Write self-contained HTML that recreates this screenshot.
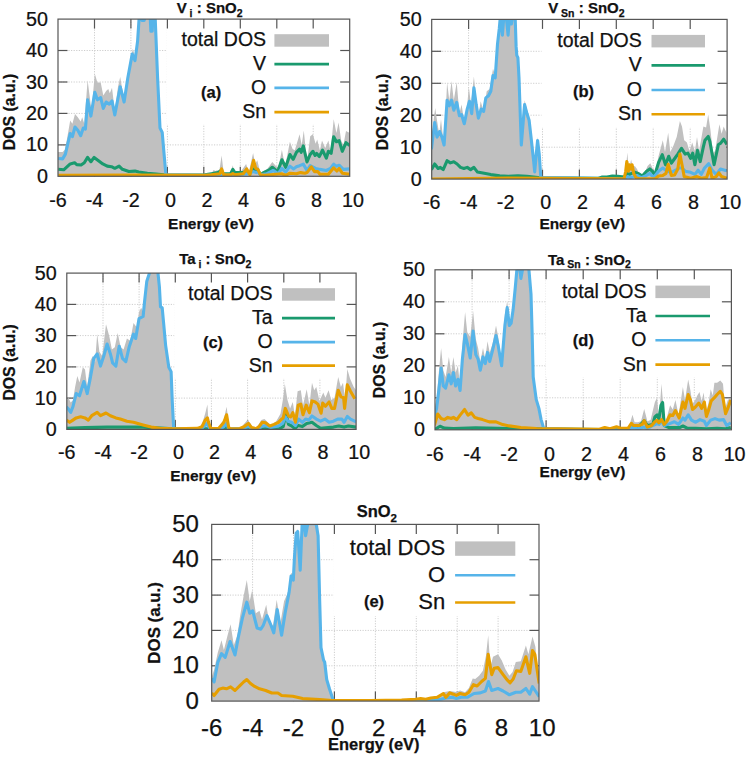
<!DOCTYPE html>
<html><head><meta charset="utf-8"><style>
html,body{margin:0;padding:0;background:#fff;width:749px;height:758px;overflow:hidden}
svg text{font-family:"Liberation Sans", sans-serif;fill:#111;stroke:#111;stroke-width:0.25px}
</style></head><body>
<svg width="749" height="758" viewBox="0 0 749 758" style="display:block">
<rect width="749" height="758" fill="#fff"/>
<g><defs><clipPath id="clipa"><rect x="58" y="19.1" width="291.7" height="157.2"/></clipPath></defs><line x1="94.5" y1="19.1" x2="94.5" y2="176.3" stroke="#cdcdcd" stroke-width="1" stroke-dasharray="1.2,1.4"/><line x1="130.9" y1="19.1" x2="130.9" y2="176.3" stroke="#cdcdcd" stroke-width="1" stroke-dasharray="1.2,1.4"/><line x1="167.4" y1="19.1" x2="167.4" y2="176.3" stroke="#cdcdcd" stroke-width="1" stroke-dasharray="1.2,1.4"/><line x1="203.8" y1="19.1" x2="203.8" y2="176.3" stroke="#cdcdcd" stroke-width="1" stroke-dasharray="1.2,1.4"/><line x1="240.3" y1="19.1" x2="240.3" y2="176.3" stroke="#cdcdcd" stroke-width="1" stroke-dasharray="1.2,1.4"/><line x1="276.8" y1="19.1" x2="276.8" y2="176.3" stroke="#cdcdcd" stroke-width="1" stroke-dasharray="1.2,1.4"/><line x1="313.2" y1="19.1" x2="313.2" y2="176.3" stroke="#cdcdcd" stroke-width="1" stroke-dasharray="1.2,1.4"/><line x1="58" y1="144.9" x2="349.7" y2="144.9" stroke="#cdcdcd" stroke-width="1" stroke-dasharray="1.2,1.4"/><line x1="58" y1="113.4" x2="349.7" y2="113.4" stroke="#cdcdcd" stroke-width="1" stroke-dasharray="1.2,1.4"/><line x1="58" y1="82" x2="349.7" y2="82" stroke="#cdcdcd" stroke-width="1" stroke-dasharray="1.2,1.4"/><line x1="58" y1="50.5" x2="349.7" y2="50.5" stroke="#cdcdcd" stroke-width="1" stroke-dasharray="1.2,1.4"/><rect x="167" y="19.1" width="182.7" height="105.5" fill="#fff"/><line x1="94.5" y1="176.3" x2="94.5" y2="166.8" stroke="#555" stroke-width="1.2"/><line x1="94.5" y1="19.1" x2="94.5" y2="28.6" stroke="#555" stroke-width="1.2"/><line x1="130.9" y1="176.3" x2="130.9" y2="166.8" stroke="#555" stroke-width="1.2"/><line x1="130.9" y1="19.1" x2="130.9" y2="28.6" stroke="#555" stroke-width="1.2"/><line x1="167.4" y1="176.3" x2="167.4" y2="166.8" stroke="#555" stroke-width="1.2"/><line x1="167.4" y1="19.1" x2="167.4" y2="28.6" stroke="#555" stroke-width="1.2"/><line x1="203.8" y1="176.3" x2="203.8" y2="166.8" stroke="#555" stroke-width="1.2"/><line x1="203.8" y1="19.1" x2="203.8" y2="28.6" stroke="#555" stroke-width="1.2"/><line x1="240.3" y1="176.3" x2="240.3" y2="166.8" stroke="#555" stroke-width="1.2"/><line x1="240.3" y1="19.1" x2="240.3" y2="28.6" stroke="#555" stroke-width="1.2"/><line x1="276.8" y1="176.3" x2="276.8" y2="166.8" stroke="#555" stroke-width="1.2"/><line x1="276.8" y1="19.1" x2="276.8" y2="28.6" stroke="#555" stroke-width="1.2"/><line x1="313.2" y1="176.3" x2="313.2" y2="166.8" stroke="#555" stroke-width="1.2"/><line x1="313.2" y1="19.1" x2="313.2" y2="28.6" stroke="#555" stroke-width="1.2"/><line x1="58" y1="144.9" x2="67.5" y2="144.9" stroke="#555" stroke-width="1.2"/><line x1="349.7" y1="144.9" x2="340.2" y2="144.9" stroke="#555" stroke-width="1.2"/><line x1="58" y1="113.4" x2="67.5" y2="113.4" stroke="#555" stroke-width="1.2"/><line x1="349.7" y1="113.4" x2="340.2" y2="113.4" stroke="#555" stroke-width="1.2"/><line x1="58" y1="82" x2="67.5" y2="82" stroke="#555" stroke-width="1.2"/><line x1="349.7" y1="82" x2="340.2" y2="82" stroke="#555" stroke-width="1.2"/><line x1="58" y1="50.5" x2="67.5" y2="50.5" stroke="#555" stroke-width="1.2"/><line x1="349.7" y1="50.5" x2="340.2" y2="50.5" stroke="#555" stroke-width="1.2"/><g clip-path="url(#clipa)"><polygon points="55,176.3 55,152 58.3,152 62.6,152 64.8,149.8 67,138.9 70.2,120.4 72.4,123.7 75,113.9 77.8,117.2 80.7,121.5 82.2,117.2 84.3,123.7 87.6,80.2 89.3,93.3 91.5,110.7 94.8,73.7 97.4,82.4 100.7,82.4 103.3,95.4 106.1,91.1 108.3,88.9 109.8,93.3 112,87.8 114.8,110.7 118,86.7 120.2,77 124.1,99.8 128.9,69.3 132.8,48.7 135,56.3 137.6,36.7 139.1,18.3 150.2,17.2 150.9,28 152.2,28 152.8,17.2 155.2,18.3 157.6,78 160,128 162.2,132.4 163.7,149.8 165.9,175.4 205,175.8 211.4,173.7 213.5,170 215.7,171 217.3,170 218.9,173.7 221.6,155.5 223.2,168.4 224.8,174.8 230.6,173.7 232.8,165.2 234.4,172.6 240.2,172.6 246.1,164.1 248.8,172.6 253.1,152.9 255.2,164.1 257.3,160.3 260.5,173.7 263.7,171 266.9,169.4 272.3,161.9 278.2,168.4 281.9,149.7 285.1,166.2 289.9,141.7 292.6,149.1 294.8,150.2 299.6,134.2 301.7,144.9 303.8,130.4 307,161.9 310.2,136.3 312.9,134.2 315.6,143.8 317.2,139.5 319.9,150.2 322,140.6 325.2,148.1 328.4,140.6 330.5,151.3 333.7,119.2 336.4,133.1 338.6,122.4 341.2,140.6 343.4,144.9 346,131 349.8,133.1 349.8,176.3" fill="#c0c0c0"/><polyline points="58.3,169.3 63.7,169.8 70.2,163.9 74.6,162.8 76.7,164.6 81.1,165 84.3,162.8 87.6,157.4 90.9,161.7 94.1,157.4 98.5,160.7 102.8,163.9 107.2,166.1 111.5,166.7 114.8,168.3 119.1,166.1 122.4,169.3 128.9,171.5 135,171.1 138.7,172 147.4,173.3 156.1,174.1 165.9,175 205,174.8 211.4,173.7 217.8,172.6 221,170.5 223.2,173.7 230.6,173.7 232.8,169.4 234.9,172.6 243.4,172.6 246.7,170.5 249.9,173.7 253.1,168.9 255.2,170 257.3,169.4 260.5,174.8 263.7,172.6 269.1,170 272.3,167.3 277.7,171.6 281.9,159.8 285.7,167.3 289.9,154.5 293.2,159.3 296.4,152.3 299.6,149.1 301.2,152.3 303.3,145.9 307,161.9 310.2,154.5 312.9,151.3 315.1,155.5 316.7,153.4 319.3,156.6 322.5,150.2 326.3,158.2 328.4,151.3 331.1,153.4 333.7,136.8 336.4,141.7 339.1,140.6 342.3,151.3 346,142.7 349.8,145.4" fill="none" stroke="#1a9a6e" stroke-width="3.1" stroke-linejoin="round"/><polyline points="58.3,158.5 62.6,158.9 65.4,154.1 70.2,133.5 72.4,136.7 75,127 77.8,130.2 80.7,135.7 83.3,128 85.4,129.1 87.6,99.8 90.9,116.1 94.8,92.2 97.4,99.8 100.7,97.6 103.3,108.5 106.1,102 109.3,104.1 112,100.9 114.8,115 120.2,86.7 124.1,102 127.8,78 132.2,54.1 135,60.6 137.6,41.1 139.1,18.3 140.9,17.2 142,20.4 144.1,20.4 145.2,17.2 150.2,17.2 150.9,31.3 152.2,31.3 152.8,17.2 155.2,18.3 157.6,78 160,128 162.2,132.4 163.7,149.8 165.9,174.8 205,175.3 237,174.8 247.7,173.7 253.1,171.6 256.3,172.6 258.4,171.6 260.5,174.8 266.9,173.7 273.4,170.5 278.2,173.7 281.9,168.4 285.7,172.1 289.9,166.2 293.7,168.9 296.4,166.8 299.6,165.7 303.3,164.1 307,170.5 310.2,165.7 315.6,168.4 319.9,169.4 326.3,170.5 330.5,168.4 333.7,164.1 336.4,166.2 339.1,165.2 343.4,169.4 349.8,168.9" fill="none" stroke="#56b4e9" stroke-width="3.1" stroke-linejoin="round"/><polyline points="58.3,175.4 135,175 205,175.3 211.4,174.8 219.9,173.7 221.6,168.9 223.7,174.8 230.6,174.8 232.8,173.5 234.9,174.8 243.4,173.7 246.7,168.9 249.9,174.8 253.6,160.3 255.7,168.4 257.9,169.4 260.5,174.8 264.8,175.3 281.4,173.7 285.7,175.3 289.9,173.2 296.4,173.7 300.6,172.6 304.9,173.2 307,172.6 311.3,166.8 314.5,171.6 317.7,171.6 319.9,174.2 328.4,174.2 333.7,167.8 336.9,171 339.1,168.4 342.3,173.2 349.8,174.2" fill="none" stroke="#e69f00" stroke-width="3.1" stroke-linejoin="round"/></g><rect x="58" y="19.1" width="291.7" height="157.2" fill="none" stroke="#555" stroke-width="1.2"/><text transform="translate(58,206.7) scale(0.94,1)" font-size="21" text-anchor="middle">-6</text><text transform="translate(94.5,206.7) scale(0.94,1)" font-size="21" text-anchor="middle">-4</text><text transform="translate(130.9,206.7) scale(0.94,1)" font-size="21" text-anchor="middle">-2</text><text transform="translate(170.6,206.7) scale(0.94,1)" font-size="21" text-anchor="middle">0</text><text transform="translate(207,206.7) scale(0.94,1)" font-size="21" text-anchor="middle">2</text><text transform="translate(243.5,206.7) scale(0.94,1)" font-size="21" text-anchor="middle">4</text><text transform="translate(280,206.7) scale(0.94,1)" font-size="21" text-anchor="middle">6</text><text transform="translate(316.4,206.7) scale(0.94,1)" font-size="21" text-anchor="middle">8</text><text transform="translate(352.9,206.7) scale(0.94,1)" font-size="21" text-anchor="middle">10</text><text transform="translate(48,182.8) scale(0.94,1)" font-size="21" text-anchor="end">0</text><text transform="translate(48,151.4) scale(0.94,1)" font-size="21" text-anchor="end">10</text><text transform="translate(48,119.9) scale(0.94,1)" font-size="21" text-anchor="end">20</text><text transform="translate(48,88.5) scale(0.94,1)" font-size="21" text-anchor="end">30</text><text transform="translate(48,57.1) scale(0.94,1)" font-size="21" text-anchor="end">40</text><text transform="translate(48,25.6) scale(0.94,1)" font-size="21" text-anchor="end">50</text><text x="211" y="228.7" font-size="15.450000000000001" font-weight="bold" text-anchor="middle">Energy (eV)</text><text transform="translate(15,112) rotate(-90)" font-size="15.825" font-weight="bold" text-anchor="middle">DOS (a.u.)</text><text x="176.7" y="13.4" font-weight="bold" xml:space="preserve"><tspan font-size="15" dy="0">V</tspan><tspan font-size="10.5" dy="3.75"> i</tspan><tspan font-size="15" dy="-3.75"> : SnO</tspan><tspan font-size="10.5" dy="3.75">2</tspan></text><text x="266.1" y="46.4" font-size="19.5" text-anchor="end">total DOS</text><rect x="274.4" y="34.2" width="54.6" height="12.5" fill="#c0c0c0"/><text x="266.1" y="69.9" font-size="19.5" text-anchor="end">V</text><line x1="274.4" y1="64.1" x2="329" y2="64.1" stroke="#1a9a6e" stroke-width="2.6"/><text x="266.1" y="93.8" font-size="19.5" text-anchor="end">O</text><line x1="274.4" y1="87.9" x2="329" y2="87.9" stroke="#56b4e9" stroke-width="2.6"/><text x="266.1" y="117.9" font-size="19.5" text-anchor="end">Sn</text><line x1="274.4" y1="112.1" x2="329" y2="112.1" stroke="#e69f00" stroke-width="2.6"/><text x="211.2" y="97.8" font-size="16.5" font-weight="bold" text-anchor="middle">(a)</text></g>
<g><defs><clipPath id="clipb"><rect x="431.7" y="19.4" width="295.4" height="159.7"/></clipPath></defs><line x1="468.6" y1="19.4" x2="468.6" y2="179.1" stroke="#cdcdcd" stroke-width="1" stroke-dasharray="1.2,1.4"/><line x1="505.6" y1="19.4" x2="505.6" y2="179.1" stroke="#cdcdcd" stroke-width="1" stroke-dasharray="1.2,1.4"/><line x1="542.5" y1="19.4" x2="542.5" y2="179.1" stroke="#cdcdcd" stroke-width="1" stroke-dasharray="1.2,1.4"/><line x1="579.4" y1="19.4" x2="579.4" y2="179.1" stroke="#cdcdcd" stroke-width="1" stroke-dasharray="1.2,1.4"/><line x1="616.3" y1="19.4" x2="616.3" y2="179.1" stroke="#cdcdcd" stroke-width="1" stroke-dasharray="1.2,1.4"/><line x1="653.2" y1="19.4" x2="653.2" y2="179.1" stroke="#cdcdcd" stroke-width="1" stroke-dasharray="1.2,1.4"/><line x1="690.2" y1="19.4" x2="690.2" y2="179.1" stroke="#cdcdcd" stroke-width="1" stroke-dasharray="1.2,1.4"/><line x1="431.7" y1="147.2" x2="727.1" y2="147.2" stroke="#cdcdcd" stroke-width="1" stroke-dasharray="1.2,1.4"/><line x1="431.7" y1="115.2" x2="727.1" y2="115.2" stroke="#cdcdcd" stroke-width="1" stroke-dasharray="1.2,1.4"/><line x1="431.7" y1="83.3" x2="727.1" y2="83.3" stroke="#cdcdcd" stroke-width="1" stroke-dasharray="1.2,1.4"/><line x1="431.7" y1="51.3" x2="727.1" y2="51.3" stroke="#cdcdcd" stroke-width="1" stroke-dasharray="1.2,1.4"/><rect x="541.5" y="19.4" width="185.6" height="108" fill="#fff"/><line x1="468.6" y1="179.1" x2="468.6" y2="169.6" stroke="#555" stroke-width="1.2"/><line x1="468.6" y1="19.4" x2="468.6" y2="28.9" stroke="#555" stroke-width="1.2"/><line x1="505.6" y1="179.1" x2="505.6" y2="169.6" stroke="#555" stroke-width="1.2"/><line x1="505.6" y1="19.4" x2="505.6" y2="28.9" stroke="#555" stroke-width="1.2"/><line x1="542.5" y1="179.1" x2="542.5" y2="169.6" stroke="#555" stroke-width="1.2"/><line x1="542.5" y1="19.4" x2="542.5" y2="28.9" stroke="#555" stroke-width="1.2"/><line x1="579.4" y1="179.1" x2="579.4" y2="169.6" stroke="#555" stroke-width="1.2"/><line x1="579.4" y1="19.4" x2="579.4" y2="28.9" stroke="#555" stroke-width="1.2"/><line x1="616.3" y1="179.1" x2="616.3" y2="169.6" stroke="#555" stroke-width="1.2"/><line x1="616.3" y1="19.4" x2="616.3" y2="28.9" stroke="#555" stroke-width="1.2"/><line x1="653.2" y1="179.1" x2="653.2" y2="169.6" stroke="#555" stroke-width="1.2"/><line x1="653.2" y1="19.4" x2="653.2" y2="28.9" stroke="#555" stroke-width="1.2"/><line x1="690.2" y1="179.1" x2="690.2" y2="169.6" stroke="#555" stroke-width="1.2"/><line x1="690.2" y1="19.4" x2="690.2" y2="28.9" stroke="#555" stroke-width="1.2"/><line x1="431.7" y1="147.2" x2="441.2" y2="147.2" stroke="#555" stroke-width="1.2"/><line x1="727.1" y1="147.2" x2="717.6" y2="147.2" stroke="#555" stroke-width="1.2"/><line x1="431.7" y1="115.2" x2="441.2" y2="115.2" stroke="#555" stroke-width="1.2"/><line x1="727.1" y1="115.2" x2="717.6" y2="115.2" stroke="#555" stroke-width="1.2"/><line x1="431.7" y1="83.3" x2="441.2" y2="83.3" stroke="#555" stroke-width="1.2"/><line x1="727.1" y1="83.3" x2="717.6" y2="83.3" stroke="#555" stroke-width="1.2"/><line x1="431.7" y1="51.3" x2="441.2" y2="51.3" stroke="#555" stroke-width="1.2"/><line x1="727.1" y1="51.3" x2="717.6" y2="51.3" stroke="#555" stroke-width="1.2"/><g clip-path="url(#clipb)"><polygon points="431.4,179.1 431.4,147.2 433.6,120.3 435.2,108 437,120.3 439.2,133.8 441,119.2 442.6,133.8 444.1,145 447.1,82.2 449.3,100.2 451.5,81.1 453.8,100.2 456.7,82.2 459.4,113.6 461.6,104.6 464.3,122.6 466.5,113.6 468.8,86.7 471,104.6 473.9,76.6 476.2,100.2 478.4,115.8 480.7,101.3 483.6,111.4 486.7,91.2 489.6,89 493,68.8 495.2,75.5 497.9,37.4 499.7,18.4 501.1,18.4 502.4,31.8 503.7,18.4 506.4,18.4 508.1,31.8 509.4,18.4 510.5,18.4 511.4,21.7 512.3,18.4 515.2,18.4 516.1,41.9 516.8,55.3 517.9,57.6 519,73.3 521.3,140.5 524.6,100.2 526.9,109.1 529.1,115.8 531.4,136 533.6,158.4 534.7,169.6 536.3,149.4 537.6,137.1 539.2,151.7 540.8,178.6 624.7,178.9 625.2,178.7 626.3,164.8 627.3,152.5 628.4,164.8 629.7,166.9 631.1,159.5 632.7,166.9 634.8,165.9 637,169.1 639.1,173.4 641.8,177.6 644.4,173.4 647.6,165.9 650.3,163.2 652.1,166.9 654.8,174.4 658.5,156.3 662.8,140.2 665,152 668.2,132.8 670.3,152 673.5,145.6 676.7,137 679.9,121 682,126.4 684.2,140.2 686.9,142.4 689.5,150.9 692.2,142.4 694.9,150.9 697,137 699.1,150.9 703.4,126.4 706.1,127.4 708.2,114.6 710.4,129.6 713,153.1 715.1,150.9 719.4,124.2 721.6,133.8 723.7,126.4 726.4,132.8 726.4,179.1" fill="#c0c0c0"/><polyline points="431.4,169.6 434.7,164 438.1,168.5 440.3,167.4 443.2,169.6 447.1,160.7 450.4,162.9 453.8,161.8 457.1,164 460.5,167.4 463.9,168.5 467.2,167.4 470.6,169.6 473.9,167.4 477.3,171.9 482.9,173 490.8,174.6 499.7,175.9 508.1,176.3 517.9,175.9 526.9,176.3 540.3,177.7 598.5,178.2 601.7,177.1 607,177.1 612.4,176 617.7,176.3 622,176.8 625.2,176.6 627.3,173.4 629.5,174.4 631.6,173.4 634.8,172.3 638,173.4 642.3,176 646.6,171.2 649.8,168.9 652.1,171.2 654.8,175 658.5,162.7 662.3,154.7 665.5,164.8 668.7,156.3 671.4,163.2 674,159.5 677.8,154.1 681.5,148.3 685.2,154.1 687.9,153.1 690.6,158.4 692.7,153.1 694.9,164.8 697.5,150.4 700.2,161.6 703.4,146.7 705,140.2 708.2,136.5 709.8,141.3 714.1,164.8 718.4,144.5 720.5,143.4 723.7,139.2 726.9,144.5" fill="none" stroke="#1a9a6e" stroke-width="3.1" stroke-linejoin="round"/><polyline points="431.4,149.4 434.7,122.6 437,137.1 439.6,131.5 441.9,137.1 444.1,145 447.1,100.2 449.3,105.8 451.5,100.2 453.8,110.2 456.7,102.4 459.4,115.8 461.6,114.7 464.3,123.7 467.2,109.1 469.5,101.3 471.7,113.6 473.9,87.8 476.2,104.6 478.4,118.1 481.3,109.1 483.6,111.4 485.8,97.9 488.5,95.7 490.8,91.2 493,75.5 495.2,77.8 497.5,44.1 499.3,28.4 500.2,18.4 501.1,18.4 502.4,35.2 503.7,18.4 506.4,18.4 508.1,35.2 509.4,18.4 510.5,18.4 511.4,24 512.3,18.4 515.2,18.4 516.1,46.4 516.8,55.3 517.9,57.6 519,77.8 521.3,145 524.6,104.6 526.9,113.6 529.1,120.3 531.4,140.5 533.6,160.7 534.7,171.9 536.3,153.9 537.6,140.5 539.2,153.9 540.8,177.5 624.7,178.7 627.3,176.6 630.5,177.6 632.7,177.1 637,175.5 641.2,177.6 645.5,176 649.8,173.4 652.1,176 654.3,176.6 658.5,171.2 662.8,168 667.1,171.2 671.4,172.3 675.6,170.2 678.8,168 682,168 685.2,171.2 690.6,172.3 694.9,174.4 698.1,170.2 701.3,174.4 704.5,168 708.7,163.7 712,170.2 716.2,174.4 720.5,169.1 724.8,170.2 726.9,170.7" fill="none" stroke="#56b4e9" stroke-width="3.1" stroke-linejoin="round"/><polyline points="431.4,179 508.1,178.1 624.1,178.7 625.7,171.2 626.8,161.6 628.4,171.2 629.5,164.8 631.1,169.1 632.1,164.8 633.7,173.4 635.9,177.6 639.1,178.7 649.8,178.7 652.1,178.7 655.3,178.7 658.5,176 662.8,175.5 666,173.4 668.2,164.3 671.4,175.5 674.6,175 677.8,169.1 679.9,154.1 682,164.8 684.2,176.6 690.6,178.2 697,176.6 701.3,178.2 706.6,177.6 709.8,168 712,178.2 716.2,176.6 718.9,172.8 721.6,176.6 726.9,178.2" fill="none" stroke="#e69f00" stroke-width="3.1" stroke-linejoin="round"/></g><rect x="431.7" y="19.4" width="295.4" height="159.7" fill="none" stroke="#555" stroke-width="1.2"/><text transform="translate(431.7,208.8) scale(0.94,1)" font-size="21" text-anchor="middle">-6</text><text transform="translate(468.6,208.8) scale(0.94,1)" font-size="21" text-anchor="middle">-4</text><text transform="translate(505.6,208.8) scale(0.94,1)" font-size="21" text-anchor="middle">-2</text><text transform="translate(545.7,208.8) scale(0.94,1)" font-size="21" text-anchor="middle">0</text><text transform="translate(582.6,208.8) scale(0.94,1)" font-size="21" text-anchor="middle">2</text><text transform="translate(619.5,208.8) scale(0.94,1)" font-size="21" text-anchor="middle">4</text><text transform="translate(656.5,208.8) scale(0.94,1)" font-size="21" text-anchor="middle">6</text><text transform="translate(693.4,208.8) scale(0.94,1)" font-size="21" text-anchor="middle">8</text><text transform="translate(730.3,208.8) scale(0.94,1)" font-size="21" text-anchor="middle">10</text><text transform="translate(421.7,185.6) scale(0.94,1)" font-size="21" text-anchor="end">0</text><text transform="translate(421.7,153.7) scale(0.94,1)" font-size="21" text-anchor="end">10</text><text transform="translate(421.7,121.7) scale(0.94,1)" font-size="21" text-anchor="end">20</text><text transform="translate(421.7,89.8) scale(0.94,1)" font-size="21" text-anchor="end">30</text><text transform="translate(421.7,57.9) scale(0.94,1)" font-size="21" text-anchor="end">40</text><text transform="translate(421.7,25.9) scale(0.94,1)" font-size="21" text-anchor="end">50</text><text x="582.3" y="228.7" font-size="15.450000000000001" font-weight="bold" text-anchor="middle">Energy (eV)</text><text transform="translate(388,112) rotate(-90)" font-size="15.825" font-weight="bold" text-anchor="middle">DOS (a.u.)</text><text x="548.2" y="13.4" font-weight="bold" xml:space="preserve"><tspan font-size="15" dy="0">V</tspan><tspan font-size="10.5" dy="3.75"> Sn</tspan><tspan font-size="15" dy="-3.75"> : SnO</tspan><tspan font-size="10.5" dy="3.75">2</tspan></text><text x="641.8" y="47" font-size="19.5" text-anchor="end">total DOS</text><rect x="651.5" y="34.9" width="53.5" height="12.5" fill="#c0c0c0"/><text x="641.8" y="71.2" font-size="19.5" text-anchor="end">V</text><line x1="651.5" y1="65.4" x2="705" y2="65.4" stroke="#1a9a6e" stroke-width="2.6"/><text x="641.8" y="95.8" font-size="19.5" text-anchor="end">O</text><line x1="651.5" y1="90" x2="705" y2="90" stroke="#56b4e9" stroke-width="2.6"/><text x="641.8" y="120.1" font-size="19.5" text-anchor="end">Sn</text><line x1="651.5" y1="114.3" x2="705" y2="114.3" stroke="#e69f00" stroke-width="2.6"/><text x="583.5" y="96.9" font-size="16.5" font-weight="bold" text-anchor="middle">(b)</text></g>
<g><defs><clipPath id="clipc"><rect x="66.8" y="273.1" width="289.3" height="156.3"/></clipPath></defs><line x1="103" y1="273.1" x2="103" y2="429.4" stroke="#cdcdcd" stroke-width="1" stroke-dasharray="1.2,1.4"/><line x1="139.1" y1="273.1" x2="139.1" y2="429.4" stroke="#cdcdcd" stroke-width="1" stroke-dasharray="1.2,1.4"/><line x1="175.3" y1="273.1" x2="175.3" y2="429.4" stroke="#cdcdcd" stroke-width="1" stroke-dasharray="1.2,1.4"/><line x1="211.4" y1="273.1" x2="211.4" y2="429.4" stroke="#cdcdcd" stroke-width="1" stroke-dasharray="1.2,1.4"/><line x1="247.6" y1="273.1" x2="247.6" y2="429.4" stroke="#cdcdcd" stroke-width="1" stroke-dasharray="1.2,1.4"/><line x1="283.8" y1="273.1" x2="283.8" y2="429.4" stroke="#cdcdcd" stroke-width="1" stroke-dasharray="1.2,1.4"/><line x1="319.9" y1="273.1" x2="319.9" y2="429.4" stroke="#cdcdcd" stroke-width="1" stroke-dasharray="1.2,1.4"/><line x1="66.8" y1="398.1" x2="356.1" y2="398.1" stroke="#cdcdcd" stroke-width="1" stroke-dasharray="1.2,1.4"/><line x1="66.8" y1="366.9" x2="356.1" y2="366.9" stroke="#cdcdcd" stroke-width="1" stroke-dasharray="1.2,1.4"/><line x1="66.8" y1="335.6" x2="356.1" y2="335.6" stroke="#cdcdcd" stroke-width="1" stroke-dasharray="1.2,1.4"/><line x1="66.8" y1="304.4" x2="356.1" y2="304.4" stroke="#cdcdcd" stroke-width="1" stroke-dasharray="1.2,1.4"/><rect x="174.3" y="273.1" width="181.8" height="105.6" fill="#fff"/><line x1="103" y1="429.4" x2="103" y2="419.9" stroke="#555" stroke-width="1.2"/><line x1="103" y1="273.1" x2="103" y2="282.6" stroke="#555" stroke-width="1.2"/><line x1="139.1" y1="429.4" x2="139.1" y2="419.9" stroke="#555" stroke-width="1.2"/><line x1="139.1" y1="273.1" x2="139.1" y2="282.6" stroke="#555" stroke-width="1.2"/><line x1="175.3" y1="429.4" x2="175.3" y2="419.9" stroke="#555" stroke-width="1.2"/><line x1="175.3" y1="273.1" x2="175.3" y2="282.6" stroke="#555" stroke-width="1.2"/><line x1="211.4" y1="429.4" x2="211.4" y2="419.9" stroke="#555" stroke-width="1.2"/><line x1="211.4" y1="273.1" x2="211.4" y2="282.6" stroke="#555" stroke-width="1.2"/><line x1="247.6" y1="429.4" x2="247.6" y2="419.9" stroke="#555" stroke-width="1.2"/><line x1="247.6" y1="273.1" x2="247.6" y2="282.6" stroke="#555" stroke-width="1.2"/><line x1="283.8" y1="429.4" x2="283.8" y2="419.9" stroke="#555" stroke-width="1.2"/><line x1="283.8" y1="273.1" x2="283.8" y2="282.6" stroke="#555" stroke-width="1.2"/><line x1="319.9" y1="429.4" x2="319.9" y2="419.9" stroke="#555" stroke-width="1.2"/><line x1="319.9" y1="273.1" x2="319.9" y2="282.6" stroke="#555" stroke-width="1.2"/><line x1="66.8" y1="398.1" x2="76.3" y2="398.1" stroke="#555" stroke-width="1.2"/><line x1="356.1" y1="398.1" x2="346.6" y2="398.1" stroke="#555" stroke-width="1.2"/><line x1="66.8" y1="366.9" x2="76.3" y2="366.9" stroke="#555" stroke-width="1.2"/><line x1="356.1" y1="366.9" x2="346.6" y2="366.9" stroke="#555" stroke-width="1.2"/><line x1="66.8" y1="335.6" x2="76.3" y2="335.6" stroke="#555" stroke-width="1.2"/><line x1="356.1" y1="335.6" x2="346.6" y2="335.6" stroke="#555" stroke-width="1.2"/><line x1="66.8" y1="304.4" x2="76.3" y2="304.4" stroke="#555" stroke-width="1.2"/><line x1="356.1" y1="304.4" x2="346.6" y2="304.4" stroke="#555" stroke-width="1.2"/><g clip-path="url(#clipc)"><polygon points="66.3,429.4 66.3,400.2 68.5,398 70.7,402.4 72.9,400.2 75.1,387 77.3,376 79.5,382.6 82.8,367.2 85,369.4 87.2,387 90.5,360.6 92.8,356.1 95,362.8 97.2,334.1 99.4,351.8 102.2,356.1 106,324.2 109.3,336.3 111.9,349.5 114.8,347.3 117.7,333 120.7,347.3 123.6,349.5 126.9,338.5 130.2,340.7 133.5,323.1 136.8,327.5 139,312.1 141.2,307.7 143.1,312.1 144.6,296.6 146.8,279 150.1,271.3 157.8,271.3 159.4,285.6 160.5,305.5 162.2,306.6 163.8,323.1 165.6,342.9 168.8,366.1 171.1,370.5 172.2,400.2 173.7,428.9 197.5,428.9 201.9,424.5 205.2,413.4 207.4,404.6 208.5,422.3 210.7,428.9 218.5,428.7 220.7,424.4 223.9,419.1 226.6,406.8 228.2,419.1 229.8,428.7 239.9,428.7 247.4,420.1 250.6,423.4 252.7,428.7 255.9,428.7 261.3,420.1 264.5,419.1 267.7,422.3 270.9,425.5 276.2,421.2 280.5,413.7 283.2,397.7 284.8,383.8 287.5,399.9 290.1,408.4 292.8,402 294.9,415.9 297.6,391.3 300.8,390.2 303,405.2 306.7,389.2 309.4,405.2 312,382.8 314.2,390.2 316.3,387 319.5,400.9 323.3,392.4 325.4,397.7 328.6,390.2 331.3,399.9 334.5,397.7 338.2,376.9 340.9,387 343,382.8 345.1,399.9 347.3,368.9 350,378.5 353.7,387 356.1,390.2 356.1,429.4" fill="#c0c0c0"/><polyline points="66.3,428.4 85,427.6 107.1,427.1 143.1,427.1 173.3,428.9 223.9,428.7 226.6,426 228.7,429.2 248.4,428.7 279.4,428.7 283.2,426.6 285.9,413.7 288.5,424.4 291.8,426 294.9,428.7 298.2,425.5 302.4,426.6 306.7,423.4 312,422.3 316.3,425.5 320.6,428.2 328.1,427.6 333.4,427.1 338.7,426 344.1,427.1 348.4,426 356.1,427.1" fill="none" stroke="#1a9a6e" stroke-width="3.1" stroke-linejoin="round"/><polyline points="66.3,406.8 68.5,409.1 70.7,412.4 72.9,406.8 76.2,393.6 79.5,395.8 83.9,381.5 87.2,393.6 90.5,377.1 93.8,358.4 97.2,353.9 100.5,366.1 103.8,356.1 107.1,344 110.4,353.9 112.6,362.8 115.9,366.1 119.2,346.2 122.5,358.4 125.8,361.7 129.1,347.3 133.5,334.1 135.7,338.5 139,318.7 143.1,316.5 144.6,301.1 146.8,281.2 149,274.6 150.1,271.3 157.8,271.3 159.4,286.9 160.5,306.8 162.2,307.9 163.8,325.1 165.6,345.1 168.8,367.2 171.1,371.6 172.2,400.2 173.7,428.9 201.9,428.4 205.2,424.9 207.4,423.4 209.6,428.4 220.7,428.7 223.9,426.6 226.6,423.4 228.7,428.7 242,428.7 248.4,426.6 252.7,428.7 259.1,428.7 261.3,426.6 265.5,425.5 270.9,427.6 278.4,426 282.6,423.4 283.2,422.3 285.3,416.9 288,421.2 291.8,422.3 295.5,425.5 298.7,419.1 302.4,422.3 305.6,419.1 308.8,420.1 312,415.9 316.3,419.1 320.6,421.2 324.9,419.1 329.1,422.3 333.4,421.2 337.7,419.1 341.9,419.1 344.1,422.3 347.3,416.4 350.5,419.1 356.1,421.8" fill="none" stroke="#56b4e9" stroke-width="3.1" stroke-linejoin="round"/><polyline points="66.3,420.1 69.6,422.3 72.9,420.1 76.2,417.9 80.6,416.8 85,417.9 88.3,420.1 91.7,415.7 97.2,412.4 100.5,415.7 106,413 110.4,415.7 115.9,417.9 120.3,419 126.9,421.2 133.5,422.3 143.1,424.9 151.2,427.1 160,428.4 173.3,428.9 197.5,428.4 201.9,426.7 205.2,420.1 207.4,417.9 208.5,422.3 210.7,428.4 218.5,428.5 220.7,426 223.9,422.3 226.6,414.8 228.7,427.6 230.3,428.7 239.9,428.5 244.2,426.6 248.4,423.4 251.7,427.6 255.9,428.7 259.1,426.6 262.3,422.3 265.5,422.8 269.8,426 274.1,424.4 278.4,422.3 281.6,419.1 283.2,418 285.3,408.4 288.5,415.9 290.7,416.9 292.8,412.7 295.5,422.3 298.2,405.2 300.8,404.1 303,414.8 306.2,405.2 309.4,412.7 312,400.9 315.2,402 317.9,404.1 321.1,413.2 322.7,403.1 325.4,406.3 329.1,402 331.8,408.4 334.5,408.4 338.2,390.2 340.9,396.7 343.6,397.7 344.6,408.4 347.3,384.9 350.5,391.3 354.8,398.8" fill="none" stroke="#e69f00" stroke-width="3.1" stroke-linejoin="round"/></g><rect x="66.8" y="273.1" width="289.3" height="156.3" fill="none" stroke="#555" stroke-width="1.2"/><text transform="translate(66.8,458.8) scale(0.94,1)" font-size="21" text-anchor="middle">-6</text><text transform="translate(103,458.8) scale(0.94,1)" font-size="21" text-anchor="middle">-4</text><text transform="translate(139.1,458.8) scale(0.94,1)" font-size="21" text-anchor="middle">-2</text><text transform="translate(178.5,458.8) scale(0.94,1)" font-size="21" text-anchor="middle">0</text><text transform="translate(214.6,458.8) scale(0.94,1)" font-size="21" text-anchor="middle">2</text><text transform="translate(250.8,458.8) scale(0.94,1)" font-size="21" text-anchor="middle">4</text><text transform="translate(287,458.8) scale(0.94,1)" font-size="21" text-anchor="middle">6</text><text transform="translate(323.1,458.8) scale(0.94,1)" font-size="21" text-anchor="middle">8</text><text transform="translate(359.3,458.8) scale(0.94,1)" font-size="21" text-anchor="middle">10</text><text transform="translate(56.8,435.9) scale(0.94,1)" font-size="21" text-anchor="end">0</text><text transform="translate(56.8,404.6) scale(0.94,1)" font-size="21" text-anchor="end">10</text><text transform="translate(56.8,373.4) scale(0.94,1)" font-size="21" text-anchor="end">20</text><text transform="translate(56.8,342.1) scale(0.94,1)" font-size="21" text-anchor="end">30</text><text transform="translate(56.8,310.9) scale(0.94,1)" font-size="21" text-anchor="end">40</text><text transform="translate(56.8,279.6) scale(0.94,1)" font-size="21" text-anchor="end">50</text><text x="213.2" y="481.3" font-size="15.450000000000001" font-weight="bold" text-anchor="middle">Energy (eV)</text><text transform="translate(15.3,362.4) rotate(-90)" font-size="15.825" font-weight="bold" text-anchor="middle">DOS (a.u.)</text><text x="179.2" y="264.2" font-weight="bold" xml:space="preserve"><tspan font-size="15" dy="0">Ta</tspan><tspan font-size="10.5" dy="3.75"> i</tspan><tspan font-size="15" dy="-3.75"> : SnO</tspan><tspan font-size="10.5" dy="3.75">2</tspan></text><text x="272.6" y="300.4" font-size="19.5" text-anchor="end">total DOS</text><rect x="282" y="288.2" width="53" height="12.5" fill="#c0c0c0"/><text x="272.6" y="324" font-size="19.5" text-anchor="end">Ta</text><line x1="282" y1="318.1" x2="335" y2="318.1" stroke="#1a9a6e" stroke-width="2.6"/><text x="272.6" y="348" font-size="19.5" text-anchor="end">O</text><line x1="282" y1="342.1" x2="335" y2="342.1" stroke="#56b4e9" stroke-width="2.6"/><text x="272.6" y="371.5" font-size="19.5" text-anchor="end">Sn</text><line x1="282" y1="365.6" x2="335" y2="365.6" stroke="#e69f00" stroke-width="2.6"/><text x="213" y="348.3" font-size="16.5" font-weight="bold" text-anchor="middle">(c)</text></g>
<g><defs><clipPath id="clipd"><rect x="435" y="269.8" width="296.4" height="160"/></clipPath></defs><line x1="472.1" y1="269.8" x2="472.1" y2="429.8" stroke="#cdcdcd" stroke-width="1" stroke-dasharray="1.2,1.4"/><line x1="509.1" y1="269.8" x2="509.1" y2="429.8" stroke="#cdcdcd" stroke-width="1" stroke-dasharray="1.2,1.4"/><line x1="546.1" y1="269.8" x2="546.1" y2="429.8" stroke="#cdcdcd" stroke-width="1" stroke-dasharray="1.2,1.4"/><line x1="583.2" y1="269.8" x2="583.2" y2="429.8" stroke="#cdcdcd" stroke-width="1" stroke-dasharray="1.2,1.4"/><line x1="620.2" y1="269.8" x2="620.2" y2="429.8" stroke="#cdcdcd" stroke-width="1" stroke-dasharray="1.2,1.4"/><line x1="657.3" y1="269.8" x2="657.3" y2="429.8" stroke="#cdcdcd" stroke-width="1" stroke-dasharray="1.2,1.4"/><line x1="694.3" y1="269.8" x2="694.3" y2="429.8" stroke="#cdcdcd" stroke-width="1" stroke-dasharray="1.2,1.4"/><line x1="435" y1="397.8" x2="731.4" y2="397.8" stroke="#cdcdcd" stroke-width="1" stroke-dasharray="1.2,1.4"/><line x1="435" y1="365.8" x2="731.4" y2="365.8" stroke="#cdcdcd" stroke-width="1" stroke-dasharray="1.2,1.4"/><line x1="435" y1="333.8" x2="731.4" y2="333.8" stroke="#cdcdcd" stroke-width="1" stroke-dasharray="1.2,1.4"/><line x1="435" y1="301.8" x2="731.4" y2="301.8" stroke="#cdcdcd" stroke-width="1" stroke-dasharray="1.2,1.4"/><rect x="545.8" y="269.8" width="185.6" height="107.8" fill="#fff"/><line x1="472.1" y1="429.8" x2="472.1" y2="420.3" stroke="#555" stroke-width="1.2"/><line x1="472.1" y1="269.8" x2="472.1" y2="279.3" stroke="#555" stroke-width="1.2"/><line x1="509.1" y1="429.8" x2="509.1" y2="420.3" stroke="#555" stroke-width="1.2"/><line x1="509.1" y1="269.8" x2="509.1" y2="279.3" stroke="#555" stroke-width="1.2"/><line x1="546.1" y1="429.8" x2="546.1" y2="420.3" stroke="#555" stroke-width="1.2"/><line x1="546.1" y1="269.8" x2="546.1" y2="279.3" stroke="#555" stroke-width="1.2"/><line x1="583.2" y1="429.8" x2="583.2" y2="420.3" stroke="#555" stroke-width="1.2"/><line x1="583.2" y1="269.8" x2="583.2" y2="279.3" stroke="#555" stroke-width="1.2"/><line x1="620.2" y1="429.8" x2="620.2" y2="420.3" stroke="#555" stroke-width="1.2"/><line x1="620.2" y1="269.8" x2="620.2" y2="279.3" stroke="#555" stroke-width="1.2"/><line x1="657.3" y1="429.8" x2="657.3" y2="420.3" stroke="#555" stroke-width="1.2"/><line x1="657.3" y1="269.8" x2="657.3" y2="279.3" stroke="#555" stroke-width="1.2"/><line x1="694.3" y1="429.8" x2="694.3" y2="420.3" stroke="#555" stroke-width="1.2"/><line x1="694.3" y1="269.8" x2="694.3" y2="279.3" stroke="#555" stroke-width="1.2"/><line x1="435" y1="397.8" x2="444.5" y2="397.8" stroke="#555" stroke-width="1.2"/><line x1="731.4" y1="397.8" x2="721.9" y2="397.8" stroke="#555" stroke-width="1.2"/><line x1="435" y1="365.8" x2="444.5" y2="365.8" stroke="#555" stroke-width="1.2"/><line x1="731.4" y1="365.8" x2="721.9" y2="365.8" stroke="#555" stroke-width="1.2"/><line x1="435" y1="333.8" x2="444.5" y2="333.8" stroke="#555" stroke-width="1.2"/><line x1="731.4" y1="333.8" x2="721.9" y2="333.8" stroke="#555" stroke-width="1.2"/><line x1="435" y1="301.8" x2="444.5" y2="301.8" stroke="#555" stroke-width="1.2"/><line x1="731.4" y1="301.8" x2="721.9" y2="301.8" stroke="#555" stroke-width="1.2"/><g clip-path="url(#clipd)"><polygon points="434.4,429.8 434.4,410.7 436.6,399.4 438.8,372.6 441.1,347.9 443.3,370.3 445.6,377 448.9,356.9 451.2,372.6 453.4,356.9 455.6,372.6 457.9,365.8 460.1,386 462.4,343.4 465.1,312.1 467.3,332.2 470.2,336.7 473.1,310.9 475.8,338.9 478.1,347.9 480.3,361.4 483,347.9 485.2,359.1 487.5,341.2 489.7,352.4 492.6,343.4 496,325.5 498.2,336.7 501.6,363.6 504.9,314.3 507.2,300.9 509.3,318.8 511.1,321 513.1,307.6 515.3,285.2 516.9,268.4 529.4,268.4 531,294.1 532.1,332.2 533.2,377 534.4,386 536.2,399.4 538.9,408.4 541.1,419.6 543.8,429.7 628.2,429.8 630.3,422.3 632.5,414.8 634.6,422.3 637.8,422.3 641,421.2 644.2,408.9 647.4,421.2 650.6,420.1 654.9,402 657.1,397.7 658.9,419.1 661.5,383.8 663.7,411.6 665.8,421.2 670.1,405.2 672.8,409.5 675.4,399.9 678.6,414.8 682.9,387 685,399.9 688.2,379.6 690.4,390.2 692.5,404.1 695.2,399.9 697.3,395.6 699.5,391.9 701.6,400.9 703.7,392.4 705.9,412.7 708.5,403.1 710.7,389.2 712.8,395.6 714.4,382.8 717.1,382.8 720.3,380.6 723,383.8 725.1,408.4 727.8,399.9 730.8,397.7 730.8,429.8" fill="#c0c0c0"/><polyline points="434.4,429.7 440,426.3 444.4,428.1 453.4,428.6 475.8,427.9 509.3,428.6 628.2,429.8 631.4,425.5 637.8,427.6 644.2,420.7 647.4,425.5 652.8,424.4 654.9,416.9 657.1,414.8 658.9,419.1 661,405.2 662.6,402.5 664.2,425.5 669,427.6 679.7,427.6 682.9,426 687.2,428.2 695.7,428.2 706.4,428.7 717.1,428.2 725.6,428.7 730.8,427.6" fill="none" stroke="#1a9a6e" stroke-width="3.1" stroke-linejoin="round"/><polyline points="434.4,417.4 436.6,408.4 438.8,390.5 441.1,368.1 443.3,386 445.6,388.2 448.9,374.8 451.2,383.8 453.4,372.6 455.6,386 457.9,379.3 460.1,390.5 462.4,359.1 465.1,334.5 467.3,343.4 470.2,358 473.1,331.1 475.8,354.6 478.1,359.1 480.3,370.3 483,356.9 485.2,363.6 487.5,352.4 489.7,361.4 492.6,350.1 496,335.6 498.2,345.7 501.6,365.8 504.9,325.5 507.2,307.6 509.3,325.5 511.1,323.3 513.1,309.8 515.3,287.4 516.9,269.5 519.8,268.4 520.9,278.4 522.7,268.4 528.8,268.4 531,294.1 532.1,332.2 533.2,377 534.4,386 536.2,399.4 538.9,408.4 541.1,419.6 543.8,428.6 599.4,430.3 628.2,429.8 631.4,427.6 637.8,428.7 644.2,427.1 647.4,428.7 652.8,425.5 657.1,423.6 658.9,424.4 661.5,421.2 664.2,425.5 669,423.9 674.4,421.8 678.6,424.4 682.9,418 685,420.1 688.2,414.8 691.5,420.1 695.7,422.3 700,419.6 704.3,421.2 706.4,425.5 710.7,420.1 715,418.6 719.2,420.1 723.5,419.6 726.7,425.5 730.8,422.8" fill="none" stroke="#56b4e9" stroke-width="3.1" stroke-linejoin="round"/><polyline points="434.4,425.2 437.7,414 441.1,418.5 444.4,419.6 447.8,417.4 451.2,418.5 453.4,417.4 456.8,419.6 460.1,415.1 464.6,409.5 468,415.1 471.3,412.9 474.7,417.4 478.1,418.5 482.5,419.6 489.3,421.9 496,421.9 502.7,424.6 509.3,425.9 520.9,427.5 536.6,428.6 599.4,429.2 604.7,427.6 610,428.7 616.5,426.8 620.7,428.2 628.2,428.2 631.4,423.4 633.5,425.5 638.9,425.5 642.1,424.4 644.2,420.7 647.4,427.1 651.7,425.5 654.9,421.8 657.1,420.4 658.9,422.8 661.5,419.6 664.2,424.4 666.9,421.2 670.1,414.8 672.8,415.4 675.4,410.5 679.2,418 682.9,402 685,408.4 688.2,394.5 690.4,399.9 692.5,409.5 695.2,407.3 698.9,403.1 701.6,408.4 704.3,402 706.4,416.4 708.5,410.5 711.2,400.9 714.4,397.7 717.1,394.5 720.3,391.3 722.4,394.5 725.6,413.7 727.8,408.4 730.8,399.9" fill="none" stroke="#e69f00" stroke-width="3.1" stroke-linejoin="round"/></g><rect x="435" y="269.8" width="296.4" height="160" fill="none" stroke="#555" stroke-width="1.2"/><text transform="translate(435,460.5) scale(0.94,1)" font-size="21" text-anchor="middle">-6</text><text transform="translate(472.1,460.5) scale(0.94,1)" font-size="21" text-anchor="middle">-4</text><text transform="translate(509.1,460.5) scale(0.94,1)" font-size="21" text-anchor="middle">-2</text><text transform="translate(549.4,460.5) scale(0.94,1)" font-size="21" text-anchor="middle">0</text><text transform="translate(586.4,460.5) scale(0.94,1)" font-size="21" text-anchor="middle">2</text><text transform="translate(623.5,460.5) scale(0.94,1)" font-size="21" text-anchor="middle">4</text><text transform="translate(660.5,460.5) scale(0.94,1)" font-size="21" text-anchor="middle">6</text><text transform="translate(697.5,460.5) scale(0.94,1)" font-size="21" text-anchor="middle">8</text><text transform="translate(734.6,460.5) scale(0.94,1)" font-size="21" text-anchor="middle">10</text><text transform="translate(425,436.3) scale(0.94,1)" font-size="21" text-anchor="end">0</text><text transform="translate(425,404.3) scale(0.94,1)" font-size="21" text-anchor="end">10</text><text transform="translate(425,372.3) scale(0.94,1)" font-size="21" text-anchor="end">20</text><text transform="translate(425,340.3) scale(0.94,1)" font-size="21" text-anchor="end">30</text><text transform="translate(425,308.3) scale(0.94,1)" font-size="21" text-anchor="end">40</text><text transform="translate(425,276.3) scale(0.94,1)" font-size="21" text-anchor="end">50</text><text x="582.5" y="477.4" font-size="15.450000000000001" font-weight="bold" text-anchor="middle">Energy (eV)</text><text transform="translate(385.3,360) rotate(-90)" font-size="15.825" font-weight="bold" text-anchor="middle">DOS (a.u.)</text><text x="548" y="264.5" font-weight="bold" xml:space="preserve"><tspan font-size="15" dy="0">Ta</tspan><tspan font-size="10.5" dy="3.75"> Sn</tspan><tspan font-size="15" dy="-3.75"> : SnO</tspan><tspan font-size="10.5" dy="3.75">2</tspan></text><text x="646.5" y="297.7" font-size="19.5" text-anchor="end">total DOS</text><rect x="655.4" y="285.6" width="54.6" height="12.5" fill="#c0c0c0"/><text x="646.5" y="321.9" font-size="19.5" text-anchor="end">Ta</text><line x1="655.4" y1="316" x2="710" y2="316" stroke="#1a9a6e" stroke-width="2.6"/><text x="646.5" y="346.2" font-size="19.5" text-anchor="end">O</text><line x1="655.4" y1="340.3" x2="710" y2="340.3" stroke="#56b4e9" stroke-width="2.6"/><text x="646.5" y="370.5" font-size="19.5" text-anchor="end">Sn</text><line x1="655.4" y1="364.6" x2="710" y2="364.6" stroke="#e69f00" stroke-width="2.6"/><text x="583.4" y="345.9" font-size="16.5" font-weight="bold" text-anchor="middle">(d)</text></g>
<g><defs><clipPath id="clipe"><rect x="211.7" y="524.4" width="327.3" height="176.7"/></clipPath></defs><line x1="252.6" y1="524.4" x2="252.6" y2="701.1" stroke="#cdcdcd" stroke-width="1" stroke-dasharray="1.2,1.4"/><line x1="293.5" y1="524.4" x2="293.5" y2="701.1" stroke="#cdcdcd" stroke-width="1" stroke-dasharray="1.2,1.4"/><line x1="334.4" y1="524.4" x2="334.4" y2="701.1" stroke="#cdcdcd" stroke-width="1" stroke-dasharray="1.2,1.4"/><line x1="375.4" y1="524.4" x2="375.4" y2="701.1" stroke="#cdcdcd" stroke-width="1" stroke-dasharray="1.2,1.4"/><line x1="416.3" y1="524.4" x2="416.3" y2="701.1" stroke="#cdcdcd" stroke-width="1" stroke-dasharray="1.2,1.4"/><line x1="457.2" y1="524.4" x2="457.2" y2="701.1" stroke="#cdcdcd" stroke-width="1" stroke-dasharray="1.2,1.4"/><line x1="498.1" y1="524.4" x2="498.1" y2="701.1" stroke="#cdcdcd" stroke-width="1" stroke-dasharray="1.2,1.4"/><line x1="211.7" y1="665.8" x2="539" y2="665.8" stroke="#cdcdcd" stroke-width="1" stroke-dasharray="1.2,1.4"/><line x1="211.7" y1="630.4" x2="539" y2="630.4" stroke="#cdcdcd" stroke-width="1" stroke-dasharray="1.2,1.4"/><line x1="211.7" y1="595.1" x2="539" y2="595.1" stroke="#cdcdcd" stroke-width="1" stroke-dasharray="1.2,1.4"/><line x1="211.7" y1="559.7" x2="539" y2="559.7" stroke="#cdcdcd" stroke-width="1" stroke-dasharray="1.2,1.4"/><rect x="333.5" y="524.4" width="205.5" height="91.7" fill="#fff"/><line x1="252.6" y1="701.1" x2="252.6" y2="691.6" stroke="#555" stroke-width="1.2"/><line x1="252.6" y1="524.4" x2="252.6" y2="533.9" stroke="#555" stroke-width="1.2"/><line x1="293.5" y1="701.1" x2="293.5" y2="691.6" stroke="#555" stroke-width="1.2"/><line x1="293.5" y1="524.4" x2="293.5" y2="533.9" stroke="#555" stroke-width="1.2"/><line x1="334.4" y1="701.1" x2="334.4" y2="691.6" stroke="#555" stroke-width="1.2"/><line x1="334.4" y1="524.4" x2="334.4" y2="533.9" stroke="#555" stroke-width="1.2"/><line x1="375.4" y1="701.1" x2="375.4" y2="691.6" stroke="#555" stroke-width="1.2"/><line x1="375.4" y1="524.4" x2="375.4" y2="533.9" stroke="#555" stroke-width="1.2"/><line x1="416.3" y1="701.1" x2="416.3" y2="691.6" stroke="#555" stroke-width="1.2"/><line x1="416.3" y1="524.4" x2="416.3" y2="533.9" stroke="#555" stroke-width="1.2"/><line x1="457.2" y1="701.1" x2="457.2" y2="691.6" stroke="#555" stroke-width="1.2"/><line x1="457.2" y1="524.4" x2="457.2" y2="533.9" stroke="#555" stroke-width="1.2"/><line x1="498.1" y1="701.1" x2="498.1" y2="691.6" stroke="#555" stroke-width="1.2"/><line x1="498.1" y1="524.4" x2="498.1" y2="533.9" stroke="#555" stroke-width="1.2"/><line x1="211.7" y1="665.8" x2="221.2" y2="665.8" stroke="#555" stroke-width="1.2"/><line x1="539" y1="665.8" x2="529.5" y2="665.8" stroke="#555" stroke-width="1.2"/><line x1="211.7" y1="630.4" x2="221.2" y2="630.4" stroke="#555" stroke-width="1.2"/><line x1="539" y1="630.4" x2="529.5" y2="630.4" stroke="#555" stroke-width="1.2"/><line x1="211.7" y1="595.1" x2="221.2" y2="595.1" stroke="#555" stroke-width="1.2"/><line x1="539" y1="595.1" x2="529.5" y2="595.1" stroke="#555" stroke-width="1.2"/><line x1="211.7" y1="559.7" x2="221.2" y2="559.7" stroke="#555" stroke-width="1.2"/><line x1="539" y1="559.7" x2="529.5" y2="559.7" stroke="#555" stroke-width="1.2"/><g clip-path="url(#clipe)"><polygon points="211.7,701.1 211.7,677.1 214.1,669.7 217.8,652.5 221.5,640.2 223.9,650.1 227.6,635.3 230.6,624.3 233.8,645.1 237.4,635.3 239.9,616.9 243.6,596.1 246.8,580.1 249.7,601 252.2,589.9 255.8,613.2 259.5,610.8 262,619.4 266.2,604.7 269.4,623.1 273,625.5 276.7,599.8 280.4,623.1 284.1,601 289.1,589.9 291.1,572.8 293.3,575.2 294.5,554.4 296.2,531 297.7,529.8 298.9,548.2 300.2,567.9 302.1,523.7 318.1,523.7 319.6,598 321,647.6 323.5,659.9 324.7,662.3 326.7,679.5 329.6,689.3 333.3,701.1 363,701.1 370,701.1 430.8,701.1 433.3,699.9 443.4,692.3 449.8,691 456.3,692 460.1,690.4 465.1,692.3 468.9,687.9 472.7,678.4 475.2,679 479.1,675.8 482.9,670.8 486,655.6 488.2,635.3 490.4,667 493,656.8 498,654.3 501.8,660.6 505.6,669.5 509.4,675.8 512.6,672 515.8,661.9 520.8,661.3 525.9,645.4 528.4,654.3 532.5,636.6 535.4,646.7 538.8,683.4 538.8,701.1" fill="#c0c0c0"/><polyline points="211.7,678.3 214.1,682 217.8,662.3 221.5,653.7 225.2,657.4 230.1,641.5 235,655 238.7,635.3 242.4,618.2 246.8,602.2 249.7,613.2 252.7,610.8 257.1,628 260.8,629.2 263.2,625.5 266.9,615.7 270.6,624.3 273.8,632.9 277.2,609.6 281.6,635.3 285.3,612 289.1,592.4 291.1,576 293.3,580.1 294.5,556.6 296.2,533 297.7,531.5 298.9,549.7 300.2,570.3 302.1,524.7 304.1,523.7 305.6,535.7 307.8,523.7 316.1,523.7 318.1,535.7 319.6,598 321,647.6 323.5,659.9 324.7,662.3 326.7,679.5 329.6,689.3 333.3,700.4 363,701.1 370,701.4 401.6,701.8 420.6,700.9 433.3,700.1 440.9,699.2 445.9,698 452.3,697.3 456.3,698.4 461.3,697.3 467.7,697.1 474,693.5 480.3,692.9 485.4,691 488.5,681.5 491.7,690.4 498,688.5 503.1,691 509.4,694.8 515.8,692.3 520.8,692.3 525.9,688.5 529.7,694.2 532.5,686.6 535.4,691 539.2,696.7" fill="none" stroke="#56b4e9" stroke-width="3.1" stroke-linejoin="round"/><polyline points="211.7,693 214.1,695.5 219,689.3 222.7,688.1 226.4,688.8 230.6,686.9 235,690.5 239.9,685.6 243.6,682 246.8,679.5 250.2,683.2 254.6,686.4 259.5,688.8 265.7,690.5 271.8,693 277.9,693 281.6,695.5 292.8,696.2 302.6,698.6 319.8,699.6 332.1,700.6 363,700.6 370,700.6 401.6,700.1 415.6,699.2 420.6,698.6 425.7,699.2 430.8,698 437.1,697.3 443.4,693.5 445.9,697.3 449.8,692.9 453.5,694.2 456.3,695.4 460.1,693.5 465.1,694.8 468.9,692.3 473.4,684.7 477.1,686 481.6,681.5 485.4,678.4 488.2,654.3 491.7,674.6 494.2,668.2 498,667.6 503.1,674.6 506.9,679.6 510.1,682.8 513.2,679 516.4,670.8 520.8,671.4 525.9,656.8 529.7,673.3 532.5,650.5 534.8,654.3 539.2,683.4" fill="none" stroke="#e69f00" stroke-width="3.1" stroke-linejoin="round"/></g><rect x="211.7" y="524.4" width="327.3" height="176.7" fill="none" stroke="#555" stroke-width="1.2"/><text transform="translate(211.7,736.4) scale(1.0,1)" font-size="24" text-anchor="middle">-6</text><text transform="translate(252.6,736.4) scale(1.0,1)" font-size="24" text-anchor="middle">-4</text><text transform="translate(293.5,736.4) scale(1.0,1)" font-size="24" text-anchor="middle">-2</text><text transform="translate(337.6,736.4) scale(1.0,1)" font-size="24" text-anchor="middle">0</text><text transform="translate(378.6,736.4) scale(1.0,1)" font-size="24" text-anchor="middle">2</text><text transform="translate(419.5,736.4) scale(1.0,1)" font-size="24" text-anchor="middle">4</text><text transform="translate(460.4,736.4) scale(1.0,1)" font-size="24" text-anchor="middle">6</text><text transform="translate(501.3,736.4) scale(1.0,1)" font-size="24" text-anchor="middle">8</text><text transform="translate(542.2,736.4) scale(1.0,1)" font-size="24" text-anchor="middle">10</text><text transform="translate(198.9,708.5) scale(1.0,1)" font-size="24" text-anchor="end">0</text><text transform="translate(198.9,673.2) scale(1.0,1)" font-size="24" text-anchor="end">10</text><text transform="translate(198.9,637.9) scale(1.0,1)" font-size="24" text-anchor="end">20</text><text transform="translate(198.9,602.5) scale(1.0,1)" font-size="24" text-anchor="end">30</text><text transform="translate(198.9,567.2) scale(1.0,1)" font-size="24" text-anchor="end">40</text><text transform="translate(198.9,531.8) scale(1.0,1)" font-size="24" text-anchor="end">50</text><text x="373.8" y="750.4" font-size="16.48" font-weight="bold" text-anchor="middle">Energy (eV)</text><text transform="translate(159.8,622.9) rotate(-90)" font-size="16.88" font-weight="bold" text-anchor="middle">DOS (a.u.)</text><text x="356.7" y="517.4" font-weight="bold" xml:space="preserve"><tspan font-size="16.5" dy="0">SnO</tspan><tspan font-size="11.549999999999999" dy="4.125">2</tspan></text><text x="445.2" y="555.2" font-size="22" text-anchor="end">total DOS</text><rect x="455.1" y="541.4" width="60.2" height="14.4" fill="#c0c0c0"/><text x="445.2" y="581.8" font-size="22" text-anchor="end">O</text><line x1="455.1" y1="575.2" x2="515.3" y2="575.2" stroke="#56b4e9" stroke-width="2.6"/><text x="445.2" y="609.1" font-size="22" text-anchor="end">Sn</text><line x1="455.1" y1="602.5" x2="515.3" y2="602.5" stroke="#e69f00" stroke-width="2.6"/><text x="374" y="607" font-size="16.5" font-weight="bold" text-anchor="middle">(e)</text></g>
</svg>
</body></html>
